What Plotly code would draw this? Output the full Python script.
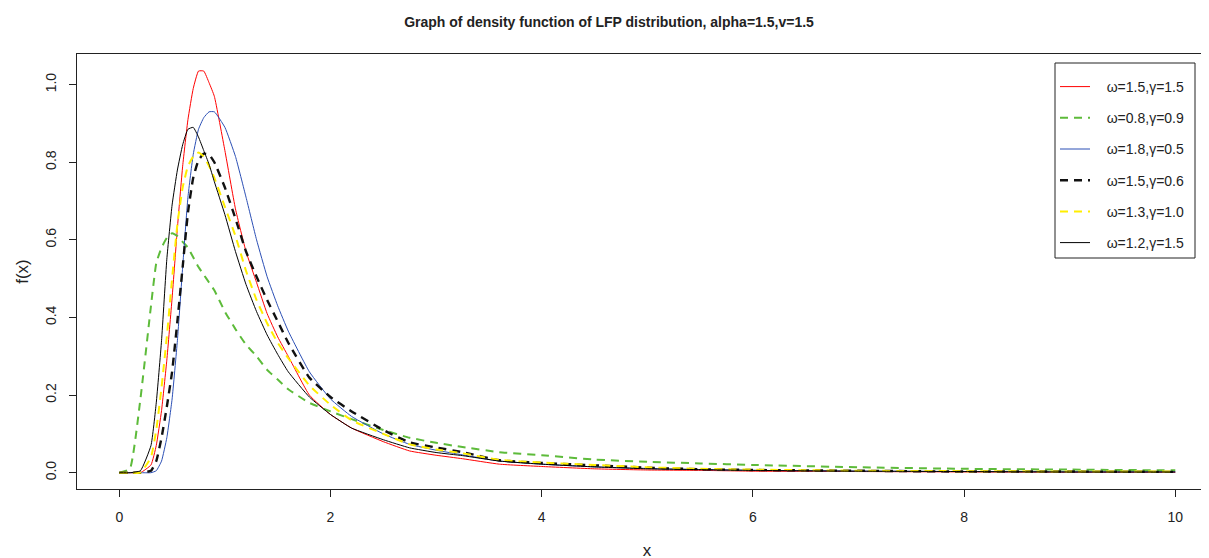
import plotly.graph_objects as go

# x grid (shared by all curves)
x_vals = [0, 0.1, 0.2, 0.3, 0.35, 0.4, 0.45, 0.5, 0.55, 0.6, 0.65, 0.7, 0.75, 0.8,
          0.85, 0.9, 1.0, 1.1, 1.2, 1.3, 1.4, 1.5, 1.6, 1.8, 2.0, 2.2, 2.5, 2.75,
          3.0, 3.25, 3.6, 4.0, 4.5, 5.0, 5.5, 6.0, 7.0, 8.0, 9.0, 10.0]

# omega=1.5, gamma=1.5 (red, solid)
f_red = [0, 0, 0, 0.02, 0.07, 0.16, 0.29, 0.45, 0.63, 0.79, 0.91, 0.99, 1.035, 1.035,
         1.005, 0.97, 0.83, 0.68, 0.57, 0.49, 0.41, 0.35, 0.30, 0.20, 0.15, 0.115, 0.08, 0.056,
         0.045, 0.036, 0.022, 0.016, 0.010, 0.007, 0.006, 0.004, 0.003, 0.002, 0.001, 0.001]

# omega=0.8, gamma=0.9 (green, dashed)
f_green = [0, 0.01, 0.19, 0.43, 0.54, 0.58, 0.605, 0.617, 0.61, 0.595, 0.58, 0.555, 0.53, 0.51,
           0.49, 0.47, 0.415, 0.37, 0.33, 0.30, 0.265, 0.24, 0.215, 0.18, 0.158, 0.138, 0.11, 0.09,
           0.077, 0.066, 0.053, 0.045, 0.034, 0.028, 0.024, 0.020, 0.014, 0.010, 0.008, 0.006]

# omega=1.8, gamma=0.5 (blue, solid)
f_blue = [0, 0, 0, 0, 0.005, 0.03, 0.09, 0.19, 0.34, 0.53, 0.71, 0.82, 0.885, 0.915,
          0.93, 0.93, 0.89, 0.815, 0.71, 0.60, 0.505, 0.43, 0.365, 0.26, 0.19, 0.145, 0.10, 0.073,
          0.058, 0.046, 0.030, 0.022, 0.015, 0.011, 0.008, 0.006, 0.004, 0.003, 0.002, 0.002]

# omega=1.5, gamma=0.6 (black, dashed)
f_black_dash = [0, 0, 0, 0.005, 0.03, 0.09, 0.17, 0.26, 0.39, 0.53, 0.67, 0.76, 0.805, 0.822,
                0.82, 0.80, 0.735, 0.655, 0.57, 0.505, 0.445, 0.39, 0.335, 0.245, 0.195, 0.158, 0.11, 0.078,
                0.065, 0.053, 0.032, 0.025, 0.019, 0.013, 0.009, 0.007, 0.005, 0.003, 0.003, 0.002]

# omega=1.3, gamma=1.0 (yellow, dashed)
f_yellow = [0, 0, 0, 0.04, 0.11, 0.22, 0.35, 0.50, 0.64, 0.735, 0.79, 0.815, 0.825, 0.815,
            0.79, 0.76, 0.685, 0.61, 0.52, 0.445, 0.385, 0.335, 0.295, 0.225, 0.175, 0.135, 0.10, 0.073,
            0.060, 0.050, 0.033, 0.026, 0.020, 0.014, 0.010, 0.008, 0.005, 0.004, 0.003, 0.003]

# omega=1.2, gamma=1.5 (black, solid)
f_black = [0, 0, 0.005, 0.07, 0.18, 0.34, 0.55, 0.69, 0.78, 0.845, 0.885, 0.89, 0.865, 0.83,
           0.795, 0.75, 0.665, 0.57, 0.485, 0.415, 0.355, 0.305, 0.26, 0.195, 0.15, 0.115, 0.085, 0.064,
           0.052, 0.044, 0.030, 0.022, 0.015, 0.010, 0.008, 0.006, 0.004, 0.003, 0.002, 0.002]

series_names = ["ω=1.5,γ=1.5", "ω=0.8,γ=0.9", "ω=1.8,γ=0.5",
                "ω=1.5,γ=0.6", "ω=1.3,γ=1.0", "ω=1.2,γ=1.5"]
series_values = [f_red, f_green, f_blue, f_black_dash, f_yellow, f_black]
series_colors = ["#FF0000", "#5DBB3A", "#2B4FB5", "#111111", "#FFEE00", "#000000"]
series_dash = ["solid", "8px,6px", "solid", "8px,6px", "8px,6px", "solid"]
series_width = [1, 2, 1, 2.4, 2, 1]

x_ticks = [0, 2, 4, 6, 8, 10]
y_ticks = [0.0, 0.2, 0.4, 0.6, 0.8, 1.0]
y_tick_text = ["0.0", "0.2", "0.4", "0.6", "0.8", "1.0"]

FONT = "Liberation Sans, Arial, Helvetica, sans-serif"

# the page body adds an 8px offset; layout below compensates for it
OFF = 8
W, H = 1209, 558
L, R, T, B = 69, 0, 46, 77
PW, PH = W - L - R, H - T - B


def px_x(wx):
    """window pixel x -> paper fraction"""
    return (wx - OFF - L) / PW


def px_y(wy):
    """window pixel y -> paper fraction"""
    return (H - B - (wy - OFF)) / PH


fig = go.Figure()
for name, vals, col, dash, w in zip(series_names, series_values, series_colors,
                                    series_dash, series_width):
    fig.add_trace(go.Scatter(
        x=x_vals, y=vals, mode="lines", name="\u00a0\u00a0\u00a0" + name, legendgroup=name,
        line=dict(color=col, dash=dash, width=w, shape="spline", smoothing=0.4),
    ))

# legend frame
fig.add_shape(type="rect", xref="paper", yref="paper",
              x0=px_x(1055), x1=px_x(1195), y0=px_y(258), y1=px_y(63),
              line=dict(color="#222222", width=1), fillcolor="white", layer="above")

fig.update_layout(
    width=W, height=H,
    paper_bgcolor="white", plot_bgcolor="white",
    margin=dict(l=L, r=R, t=T, b=B),
    font=dict(family=FONT, size=14, color="#222222"),
    title=dict(text="<b>Graph of density function of LFP distribution, alpha=1.5,v=1.5</b>",
               x=601 / W, xanchor="center", y=1 - 14 / H, yanchor="middle",
               font=dict(size=14, color="#222222")),
    showlegend=True,
    legend=dict(x=px_x(1055), y=px_y(71), xanchor="left", yanchor="top",
                borderwidth=0, bgcolor="rgba(0,0,0,0)",
                font=dict(size=14, color="#222222"), tracegroupgap=10,
                itemwidth=30),
    xaxis=dict(range=[-0.4006, 10.395], tickvals=x_ticks, ticks="outside", ticklen=7,
               tickcolor="#222222", showline=True, linecolor="#222222", linewidth=1,
               mirror=True, showgrid=False, zeroline=False, ticklabelstandoff=8,
               title=dict(text="x", standoff=20)),
    yaxis=dict(range=[-0.042, 1.079], tickvals=y_ticks, ticktext=y_tick_text,
               tickangle=-90, ticks="outside", ticklen=7,
               tickcolor="#222222", showline=True, linecolor="#222222", linewidth=1,
               mirror=False, showgrid=False, zeroline=False, ticklabelstandoff=7,
               title=dict(text="f(x)", standoff=10)),
)

fig.write_html("out.html")
